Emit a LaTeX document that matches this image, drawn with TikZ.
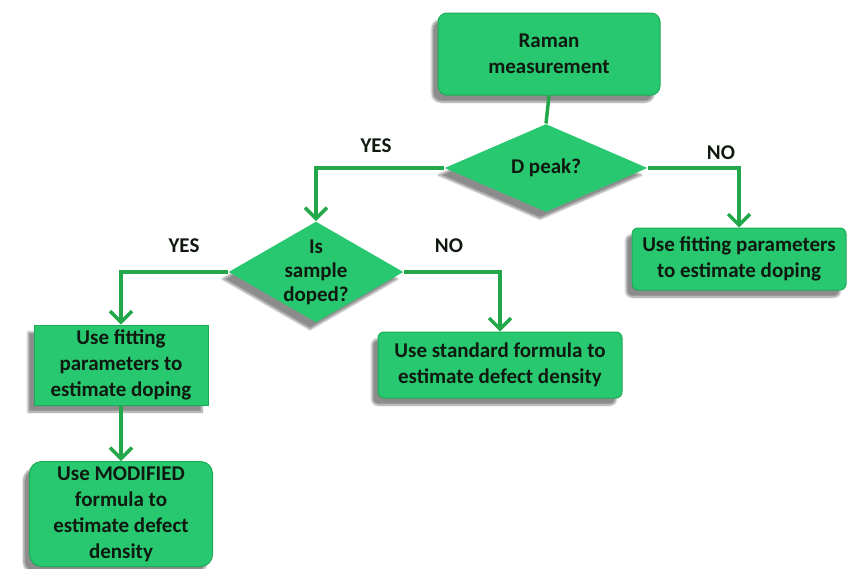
\documentclass[tikz,border=0pt]{standalone}
\usepackage{fontspec}
\setmainfont{Carlito}
\usetikzlibrary{shapes.geometric,arrows.meta,shadows.blur}
\definecolor{boxfill}{RGB}{40,200,112}
\definecolor{boxline}{RGB}{30,170,85}
\definecolor{arrowc}{RGB}{34,168,74}
\definecolor{txt}{RGB}{15,25,15}
\tikzset{
  every node/.style={font=\bfseries\fontsize{21}{26}\selectfont, text=txt},
  boxstyle/.style={draw=boxline, line width=1pt, fill=boxfill, align=center, inner sep=2pt,
    blur shadow={shadow xshift=-6pt, shadow yshift=-7pt, shadow blur steps=8, shadow opacity=45}},
  roundbox/.style={boxstyle, rounded corners=9pt},
  decision/.style={boxstyle, draw=none, diamond, inner sep=0pt},
  conn/.style={draw=arrowc, line width=3.5pt},
  arr/.style={conn, -{Straight Barb[length=11pt,width=22pt,line width=3.5pt]}},
  lab/.style={font=\bfseries\fontsize{21}{26}\selectfont, text=txt}
}
\begin{document}
\begin{tikzpicture}[x=1pt,y=-1pt]
\useasboundingbox (0,0) rectangle (848,568);
\node[roundbox, minimum width=222pt, minimum height=82pt] (raman) at (549,54) {Raman\\measurement};
\node[decision, minimum width=203pt, minimum height=85pt] (dpeak) at (546,168) {D peak?};
\node[decision, minimum width=175pt, minimum height=101pt] (doped) at (316,272) {};
\node[align=center, font=\bfseries\fontsize{21}{24}\selectfont] (dopedtxt) at (doped.center) {Is\\sample\\doped?};
\node[roundbox, rounded corners=6pt, minimum width=214pt, minimum height=62pt] (fitR) at (739,259) {Use fitting parameters\\to estimate doping};
\node[roundbox, rounded corners=6pt, minimum width=244pt, minimum height=66pt] (std) at (500,365) {Use standard formula to\\estimate defect density};
\node[boxstyle, minimum width=174pt, minimum height=80pt] (fitL) at (121,365) {Use fitting\\parameters to\\estimate doping};
\node[roundbox, rounded corners=12pt, minimum width=183pt, minimum height=105pt] (mod) at (121,514) {Use MODIFIED\\formula to\\estimate defect\\density};

\draw[conn] (raman.south) -- (dpeak.north);
\draw[arr] (dpeak.west) -| (doped.north);
\draw[arr] (dpeak.east) -| (fitR.north);
\draw[arr] (doped.west) -| (fitL.north);
\draw[arr] (doped.east) -| (std.north);
\draw[arr] (fitL.south) -- (mod.north);

\node[lab] (yes1) at (376,146) {YES};
\node[lab] (no1) at (721,153) {NO};
\node[lab] (yes2) at (184,246) {YES};
\node[lab] (no2) at (449,246) {NO};
\end{tikzpicture}
\end{document}
